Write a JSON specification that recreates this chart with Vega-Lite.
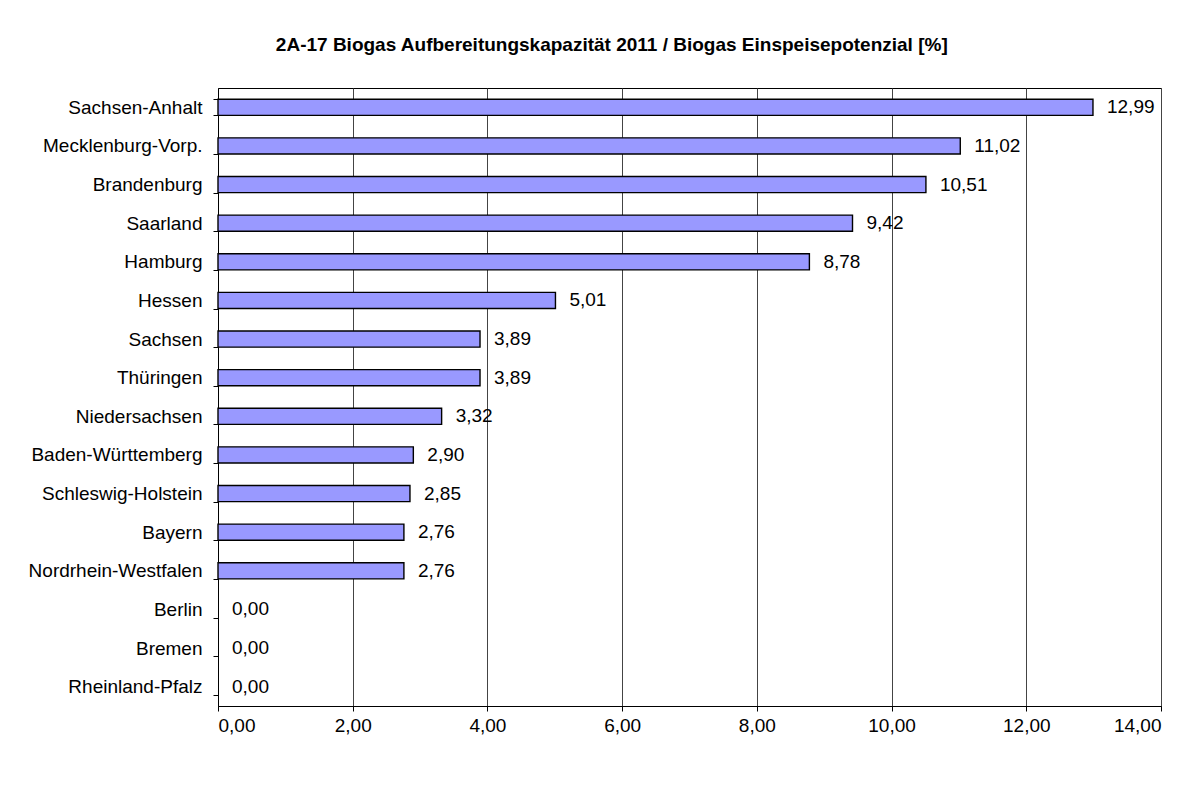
{
  "$schema": "https://vega.github.io/schema/vega-lite/v6.json",
  "autosize": {"type": "none"},
  "padding": {"left": 218, "top": 88, "right": 43, "bottom": 81},
  "width": 943,
  "height": 618,
  "background": "white",
  "config": {
    "locale": {"number": {"decimal": ",", "thousands": ".", "grouping": [3], "currency": ["", " €"]}},
    "font": "Liberation Sans",
    "view": {"stroke": "black", "strokeWidth": 1}
  },
  "title": {
    "text": "2A-17 Biogas Aufbereitungskapazität 2011 / Biogas Einspeisepotenzial [%]",
    "font": "Liberation Sans",
    "fontSize": 19,
    "fontWeight": "bold",
    "color": "black",
    "anchor": "middle",
    "frame": "bounds",
    "dx": 17,
    "offset": 24
  },
  "data": {
    "values": [
      {"land": "Sachsen-Anhalt", "wert": 12.99},
      {"land": "Mecklenburg-Vorp.", "wert": 11.02},
      {"land": "Brandenburg", "wert": 10.51},
      {"land": "Saarland", "wert": 9.42},
      {"land": "Hamburg", "wert": 8.78},
      {"land": "Hessen", "wert": 5.01},
      {"land": "Sachsen", "wert": 3.89},
      {"land": "Thüringen", "wert": 3.89},
      {"land": "Niedersachsen", "wert": 3.32},
      {"land": "Baden-Württemberg", "wert": 2.90},
      {"land": "Schleswig-Holstein", "wert": 2.85},
      {"land": "Bayern", "wert": 2.76},
      {"land": "Nordrhein-Westfalen", "wert": 2.76},
      {"land": "Berlin", "wert": 0.0},
      {"land": "Bremen", "wert": 0.0},
      {"land": "Rheinland-Pfalz", "wert": 0.0}
    ]
  },
  "encoding": {
    "y": {
      "field": "land", "type": "nominal", "sort": null,
      "scale": {"paddingInner": 0.58, "paddingOuter": 0.29},
      "axis": {
        "title": null, "tickBand": "extent", "tickSize": 5, "tickColor": "black",
        "domainColor": "black", "labelFontSize": 19, "labelColor": "black",
        "labelPadding": 11, "labelFont": "Liberation Sans", "grid": false
      }
    },
    "x": {
      "field": "wert", "type": "quantitative",
      "scale": {"domain": [0, 14], "nice": false},
      "axis": {
        "title": null, "values": [0, 2, 4, 6, 8, 10, 12, 14], "format": ".2f",
        "tickSize": 5, "tickColor": "black", "domainColor": "black",
        "labelFontSize": 19, "labelColor": "black", "labelPadding": 5,
        "labelFont": "Liberation Sans",
        "grid": true, "gridColor": "#444444", "gridWidth": 1, "gridOpacity": 1
      }
    }
  },
  "layer": [
    {
      "mark": {"type": "bar", "fill": "#9999FF", "stroke": "black", "strokeWidth": 1.4},
      "encoding": {
        "strokeOpacity": {"condition": {"test": "datum.wert === 0", "value": 0}, "value": 1}
      }
    },
    {
      "mark": {"type": "text", "align": "left", "baseline": "middle", "dx": 14, "fontSize": 19, "color": "black", "font": "Liberation Sans"},
      "encoding": {"text": {"field": "wert", "type": "quantitative", "format": ".2f"}}
    }
  ]
}
